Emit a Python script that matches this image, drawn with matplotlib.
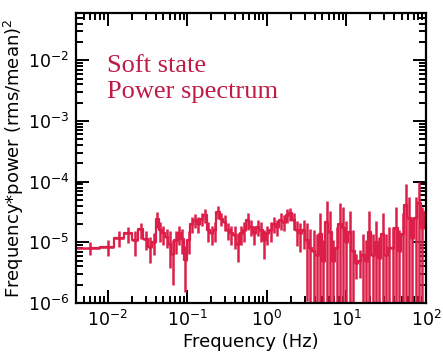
import numpy as np
import matplotlib
matplotlib.use("Agg")
import matplotlib.pyplot as plt
from matplotlib.ticker import LogLocator, NullFormatter

# ---- data ----
freq = [0.006, 0.010, 0.014, 0.018, 0.022, 0.026, 0.030, 0.034, 0.038, 0.042,
        0.046, 0.050, 0.055, 0.060, 0.066, 0.072, 0.079, 0.087, 0.095, 0.104,
        0.114, 0.125, 0.138, 0.152, 0.167, 0.184, 0.202, 0.222, 0.244, 0.268,
        0.295, 0.325, 0.357, 0.393, 0.432, 0.475, 0.523, 0.575, 0.632, 0.695,
        0.765, 0.841, 0.925, 1.018, 1.12, 1.23, 1.35, 1.49, 1.64, 1.80,
        1.98, 2.18, 2.40, 2.64, 2.90, 3.19, 3.51, 3.86, 4.25, 4.67,
        5.14, 5.65, 6.22, 6.84, 7.52, 8.27, 9.10, 10.0, 11.0, 12.1,
        13.3, 14.7, 16.1, 17.8, 19.5, 21.5, 23.6, 26.0, 28.6, 31.5,
        34.6, 38.1, 41.9, 46.1, 50.7, 55.7, 61.3, 67.4, 74.2, 81.6,
        89.8, 98.8]

power = [8.2e-6, 8.4e-6, 1.2e-5, 1.4e-5, 1.08e-5, 1.63e-5, 1.15e-5, 8.4e-6, 1.02e-5, 2.47e-5,
         1.58e-5, 1.4e-5, 1.23e-5, 9.5e-6, 6.5e-6, 1.08e-5, 1.4e-5, 1.15e-5, 5.1e-6, 1.08e-5,
         2.04e-5, 2.32e-5, 2.04e-5, 2.47e-5, 2.8e-5, 1.58e-5, 1.4e-5, 1.58e-5, 3.18e-5, 2.47e-5,
         2.18e-5, 1.58e-5, 1.4e-5, 1.31e-5, 9.5e-6, 1.4e-5, 1.58e-5, 2.32e-5, 1.8e-5, 1.4e-5,
         1.8e-5, 1.58e-5, 1.08e-5, 1.4e-5, 1.58e-5, 2.04e-5, 1.8e-5, 2.32e-5, 2.18e-5, 2.8e-5,
         2.99e-5, 2.32e-5, 1.58e-5, 1.4e-5, 1.58e-5, 1.08e-5, 8.2e-6, 7.1e-6, 6.3e-6, 1.35e-5,
         4.9e-6, 2.2e-5, 1.5e-5, 4.9e-6, 8.1e-6, 2.0e-5, 1.7e-5, 1.0e-5, 1.5e-5, 7.1e-6,
         4.5e-6, 5.0e-6, 6.3e-6, 4.9e-6, 1.5e-5, 6.3e-6, 1.0e-5, 5.5e-6, 1.35e-5, 6.3e-6,
         8.1e-6, 8.1e-6, 1.7e-5, 7.1e-6, 1.35e-5, 4.2e-5, 2.5e-5, 1.2e-5, 2.5e-5, 4.5e-5,
         1.7e-5, 3.2e-5]

rel_err = [0.25, 0.3, 0.3, 0.3, 0.45, 0.3, 0.35, 0.45, 0.4, 0.3,
           0.35, 0.35, 0.35, 0.6, 0.7, 0.4, 0.35, 0.45, 0.7, 0.4,
           0.3, 0.25, 0.3, 0.25, 0.25, 0.35, 0.35, 0.35, 0.25, 0.25,
           0.3, 0.3, 0.35, 0.4, 0.5, 0.35, 0.35, 0.3, 0.3, 0.35,
           0.3, 0.35, 0.5, 0.35, 0.35, 0.3, 0.3, 0.3, 0.3, 0.25,
           0.25, 0.3, 0.45, 0.5, 0.5, 0.9, 1.0, 1.22, 1.22, 1.22,
           1.22, 1.22, 1.22, 1.22, 1.22, 1.22, 1.22, 1.22, 1.22, 1.22,
           0.44, 0.48, 1.22, 1.22, 1.22, 1.22, 1.22, 1.22, 1.22, 1.22,
           1.22, 1.22, 1.22, 1.22, 1.22, 1.22, 1.22, 1.22, 1.22, 1.22,
           1.22, 1.22]

label_text = "Soft state\nPower spectrum"

# ---- derived quantities ----
f = np.array(freq)
p = np.array(power)
err = p * np.array(rel_err)
lower = p - np.maximum(p - err, 1e-9)
upper = err

mid = (f[1:] + f[:-1]) / 2.0
edges = np.concatenate([[2 * f[0] - mid[0]], mid, [2 * f[-1] - mid[-1]]])
xlo = f - edges[:-1]
xhi = edges[1:] - f

color = "#dc1f48"

fig = plt.figure(figsize=(4.43, 3.54), dpi=100)
ax = fig.add_axes([0.1716, 0.144, 0.79, 0.819])
ax.set_xscale("log")
ax.set_yscale("log")

ax.errorbar(f, p, xerr=[xlo, xhi], yerr=[lower, upper], fmt="none",
            ecolor=color, elinewidth=1.8, capsize=0)
ax.step(f, p, where="mid", color=color, linewidth=1.6)

ax.set_xlim(0.004, 100)
ax.set_ylim(1e-6, 0.06)

ax.xaxis.set_major_locator(LogLocator(base=10, numticks=20))
ax.xaxis.set_minor_locator(LogLocator(base=10, subs=np.arange(2, 10), numticks=50))
ax.yaxis.set_major_locator(LogLocator(base=10, numticks=20))
ax.yaxis.set_minor_locator(LogLocator(base=10, subs=np.arange(2, 10), numticks=50))
ax.xaxis.set_minor_formatter(NullFormatter())
ax.yaxis.set_minor_formatter(NullFormatter())

ax.tick_params(which="both", direction="in", top=True, right=True, width=1.4,
               labelsize=12.5, colors="black")
ax.tick_params(which="major", length=9.5, pad=5)
ax.tick_params(which="minor", length=5)
for s in ax.spines.values():
    s.set_linewidth(1.6)

ax.set_xlabel("Frequency (Hz)", fontsize=13, labelpad=2)
ax.set_ylabel("Frequency*power (rms/mean)$^2$", fontsize=13, labelpad=1)

ax.text(0.088, 0.855, label_text, transform=ax.transAxes, fontsize=19,
        family="Liberation Serif", color="#c01a45", va="top", ha="left",
        linespacing=1.2)

fig.savefig("out.png", dpi=100)
